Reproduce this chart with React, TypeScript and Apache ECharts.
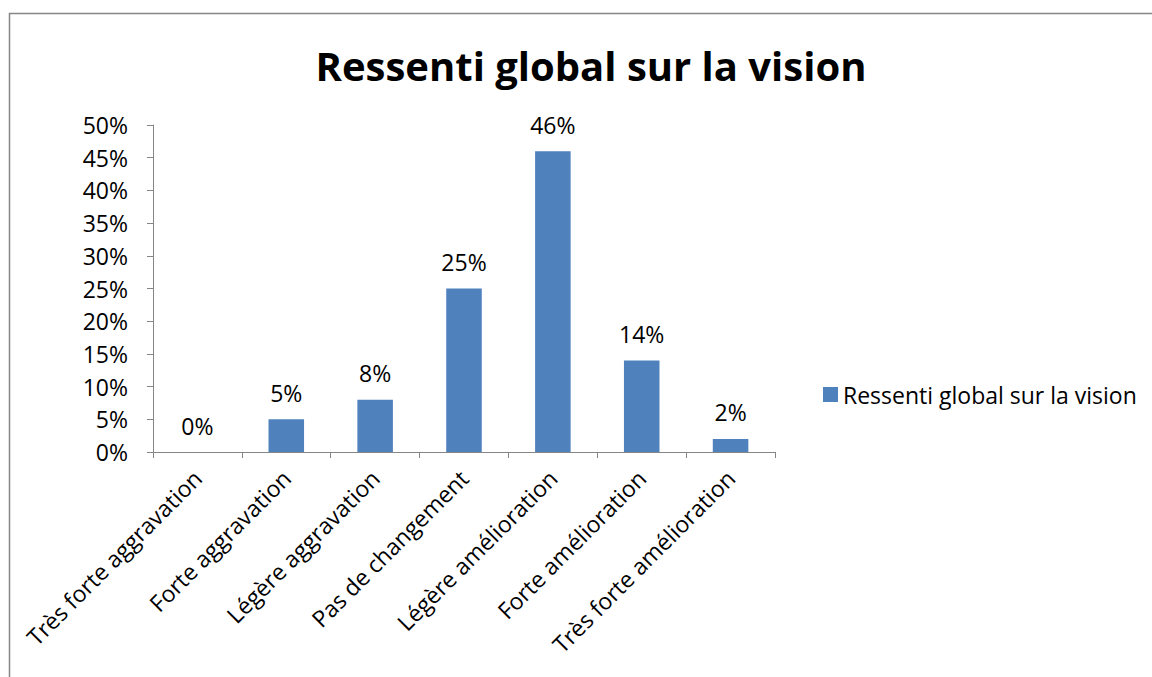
import React, { useEffect, useRef } from "react";
import * as echarts from "echarts";

const categories = [
  "Très forte aggravation",
  "Forte aggravation",
  "Légère aggravation",
  "Pas de changement",
  "Légère amélioration",
  "Forte amélioration",
  "Très forte amélioration",
];
const values = [0, 0.05, 0.08, 0.25, 0.46, 0.14, 0.02];
const seriesName = "Ressenti global sur la vision";
const titleText = "Ressenti global sur la vision";

const FONT = "'Open Sans', sans-serif";
const FS = 23;
const pct = (v: number) => Math.round(v * 100) + "%";

export default function App() {
  const ref = useRef<HTMLDivElement>(null);
  useEffect(() => {
    if (!ref.current) return;
    const chart = echarts.init(ref.current, undefined, { renderer: "svg" });
    chart.setOption({
      animation: false,
      backgroundColor: "#ffffff",
      textStyle: { fontFamily: FONT },
      title: {
        text: titleText,
        left: 586,
        textAlign: "center",
        top: 40,
        textStyle: { fontFamily: FONT, fontSize: 40, fontWeight: "bold", color: "#000" },
      },
      graphic: [
        {
          type: "rect",
          shape: { x: 9.5, y: 13.5, width: 1400, height: 900 },
          style: { fill: "none", stroke: "#868686", lineWidth: 1.5 },
          silent: true,
        },
      ],
      legend: {
        left: 818,
        top: 378,
        icon: "rect",
        itemWidth: 15,
        itemHeight: 15,
        itemGap: 6,
        textStyle: { fontFamily: FONT, fontSize: FS, color: "#000" },
        data: [seriesName],
      },
      grid: { left: 153, top: 125, right: 377, bottom: 225, containLabel: false },
      xAxis: {
        type: "category",
        data: categories,
        axisLine: { lineStyle: { color: "#868686", width: 1 } },
        axisTick: { show: true, alignWithLabel: false, length: 6, lineStyle: { color: "#868686" } },
        axisLabel: {
          rotate: 45,
          interval: 0,
          margin: 22,
          fontSize: FS,
          color: "#000",
          fontFamily: FONT,
        },
      },
      yAxis: {
        type: "value",
        min: 0,
        max: 0.5,
        interval: 0.05,
        axisLine: { show: true, lineStyle: { color: "#868686", width: 1 } },
        axisTick: { show: true, length: 6, lineStyle: { color: "#868686" } },
        splitLine: { show: false },
        axisLabel: {
          formatter: (v: number) => pct(v),
          fontSize: FS,
          color: "#000",
          margin: 25,
          fontFamily: FONT,
        },
      },
      series: [
        {
          name: seriesName,
          type: "bar",
          data: values,
          barWidth: "40%",
          itemStyle: { color: "#4F81BD" },
          label: {
            show: true,
            position: "top",
            distance: 15,
            formatter: (p: any) => pct(p.value),
            fontSize: FS,
            color: "#000",
            fontFamily: FONT,
          },
        },
      ],
    });
    return () => chart.dispose();
  }, []);
  return (
    <div
      ref={ref}
      style={{ position: "absolute", left: 0, top: 0, width: 1152, height: 677 }}
    />
  );
}
